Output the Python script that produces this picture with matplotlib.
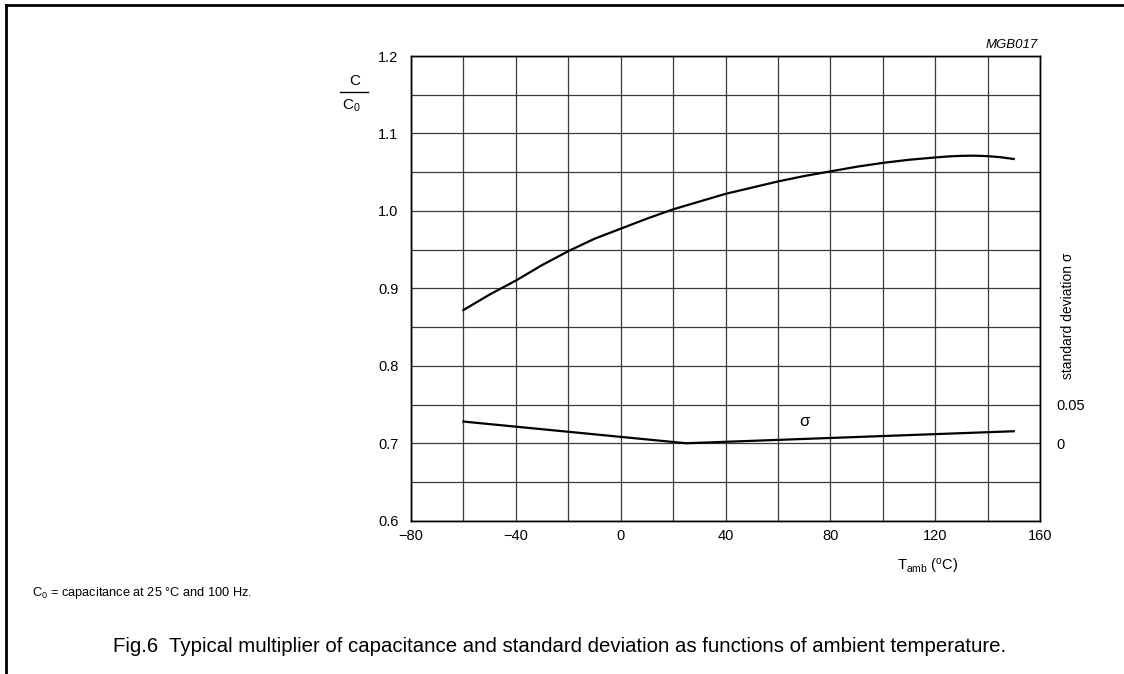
import matplotlib.pyplot as plt
from matplotlib.lines import Line2D

# datos
temp = [-60, -50, -40, -30, -20, -10, 0, 10, 20, 30, 40, 50, 60, 70, 80, 90,
        100, 110, 120, 125, 130, 135, 140, 145, 150]
c_ratio = [0.872, 0.892, 0.910, 0.930, 0.948, 0.964, 0.977, 0.990, 1.002, 1.012,
           1.022, 1.030, 1.038, 1.045, 1.051, 1.057, 1.062, 1.066, 1.069, 1.0703,
           1.0711, 1.0713, 1.0707, 1.0693, 1.067]
sigma_temp = [-60, 25, 150]
sigma_val = [0.028, 0.0, 0.0155]

x_ticks = [-80, -40, 0, 40, 80, 120, 160]
x_labels = ['\u221280', '\u221240', '0', '40', '80', '120', '160']
y_ticks = [0.6, 0.7, 0.8, 0.9, 1.0, 1.1, 1.2]
sigma_ticks = [0, 0.05]
sigma_labels = ['0', '0.05']

plt.rcParams['font.family'] = ['Liberation Sans', 'DejaVu Sans']
plt.rcParams['mathtext.fontset'] = 'custom'
plt.rcParams['mathtext.rm'] = 'Liberation Sans'
plt.rcParams['mathtext.it'] = 'Liberation Sans:italic'

W, H = 1124, 674
fig = plt.figure(figsize=(W / 100, H / 100), dpi=100)
ax = fig.add_axes([411 / W, 1 - 520.7 / H, 629 / W, 464.7 / H])

ax.set_xlim(-80, 160)
ax.set_ylim(0.6, 1.2)
ax.set_xticks(x_ticks)
ax.set_xticklabels(x_labels)
ax.set_yticks(y_ticks)
ax.set_yticklabels([f'{v:.1f}' for v in y_ticks])
ax.set_xticks([t for t in range(-80, 161, 20) if t not in x_ticks], minor=True)
ax.set_yticks([0.65 + 0.1 * i for i in range(6)], minor=True)
ax.grid(which='both', color='#3a3a3a', linewidth=0.9)
ax.tick_params(which='both', length=0, labelsize=10.5, pad=9)
ax.tick_params(axis='x', pad=6)
for s in ax.spines.values():
    s.set_linewidth(1.0)

ax.plot(temp, c_ratio, color='black', linewidth=1.6)

# eje derecho: desviacion estandar
ax2 = ax.twinx()
ax2.set_ylim(-0.1, 0.5)
ax2.set_yticks(sigma_ticks)
ax2.set_yticklabels(sigma_labels)
ax2.tick_params(length=0, labelsize=10.5, pad=12)
ax2.plot(sigma_temp, sigma_val, color='black', linewidth=1.6)
ax2.text(70, 0.028, '\u03c3', fontsize=12, ha='center', va='center')
for s in ax2.spines.values():
    s.set_linewidth(1.0)
fig.text(1068 / W, 1 - 316 / H, 'standard deviation \u03c3', fontsize=10,
         rotation=90, ha='center', va='center')

# etiquetas
fig.text(355 / W, 1 - 81 / H, 'C', fontsize=11, ha='center', va='center')
fig.add_artist(Line2D([340 / W, 368 / W], [1 - 92 / H, 1 - 92 / H],
                      color='black', linewidth=1))
fig.text(351 / W, 1 - 106 / H, r'C$_{\rm 0}$', fontsize=11, ha='center', va='center')
fig.text(1038 / W, 1 - 45 / H, 'MGB017', fontsize=9.5, style='italic',
         ha='right', va='center')
fig.text(897 / W, 1 - 567 / H, r'T$_{\rm amb}$ ($^{\rm o}$C)', fontsize=10.5,
         ha='left', va='center')
fig.text(32 / W, 1 - 593 / H, 'C$_{\\rm 0}$ = capacitance at 25 \u00b0C and 100 Hz.',
         fontsize=9.2, ha='left', va='center')
fig.text(560 / W, 1 - 652 / H,
         'Fig.6  Typical multiplier of capacitance and standard deviation as functions of ambient temperature.',
         fontsize=14.7, ha='center', va='baseline')

# marco de pagina
fig.add_artist(Line2D([6 / W, 6 / W], [0, 1 - 4.5 / H], color='black', linewidth=2))
fig.add_artist(Line2D([6 / W, 1], [1 - 4.5 / H, 1 - 4.5 / H], color='black', linewidth=2))

fig.savefig('out.png', dpi=100)
